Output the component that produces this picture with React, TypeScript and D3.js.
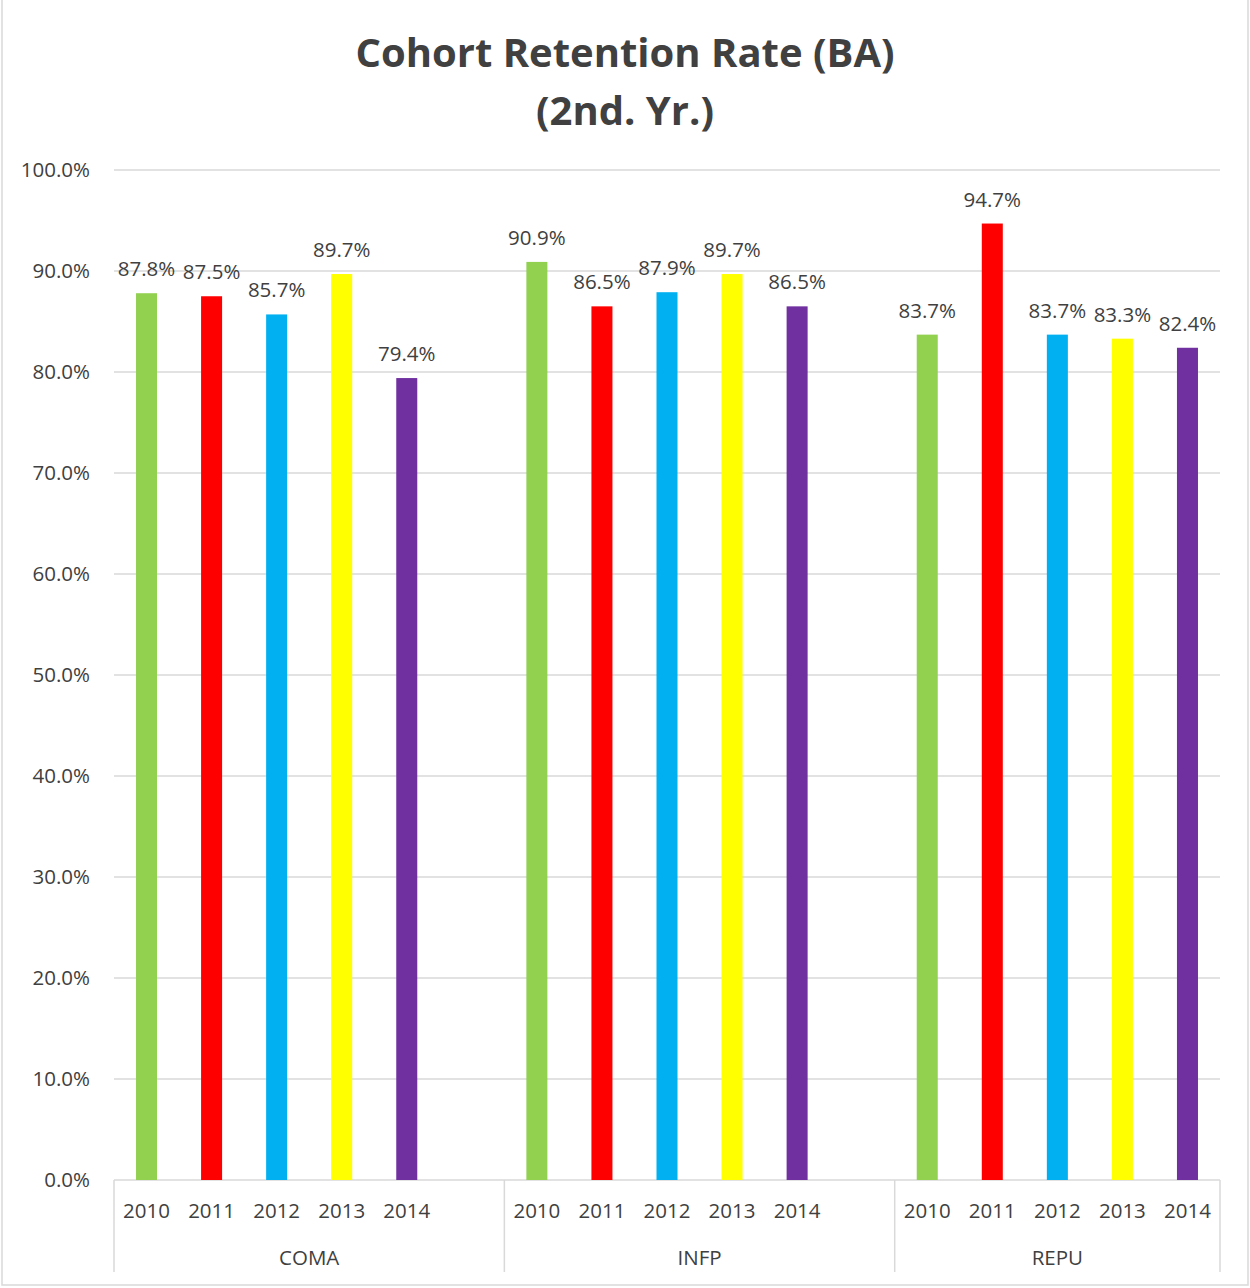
import React from 'react';
import * as d3 from 'd3';

const groups = ['COMA', 'INFP', 'REPU'];
const years = ['2010', '2011', '2012', '2013', '2014'];
const coma = [87.8, 87.5, 85.7, 89.7, 79.4];
const infp = [90.9, 86.5, 87.9, 89.7, 86.5];
const repu = [83.7, 94.7, 83.7, 83.3, 82.4];
const yearColors = ['#92d050', '#ff0000', '#00b0f0', '#ffff00', '#7030a0'];
const yTicks = [0, 10, 20, 30, 40, 50, 60, 70, 80, 90, 100];

const W = 1250;
const H = 1288;
const font = '"Open Sans", "Liberation Sans", sans-serif';
const textColor = '#404040';
const gridColor = '#d9d9d9';
const fs = 20.5;

const App: React.FC = () => {
  const series = [coma, infp, repu];
  // one slot per year, plus an empty slot between groups
  const slots: { key: string; group: number; year: number; value: number | null }[] = [];
  groups.forEach((g, gi) => {
    years.forEach((yr, yi) => {
      slots.push({ key: `${g}-${yr}`, group: gi, year: yi, value: series[gi][yi] });
    });
    if (gi < groups.length - 1) slots.push({ key: `gap-${gi}`, group: gi, year: -1, value: null });
  });

  const left = 114;
  const right = 1220;
  const top = 170;
  const bottom = 1180;

  const x = d3.scaleBand<string>()
    .domain(slots.map(s => s.key))
    .range([left, right])
    .paddingInner(0.677)
    .paddingOuter(0.3385);
  const step = x.step();
  const slotStart = (key: string) => x(key)! - x.paddingInner() * step / 2;

  const y = d3.scaleLinear().domain([0, 100]).range([bottom, top]);

  const groupBounds = groups.map((g, gi) => {
    const ks = slots.filter(s => s.group === gi && s.year >= 0).map(s => s.key);
    const start = slotStart(ks[0]);
    const end = gi < groups.length - 1 ? slotStart(`gap-${gi}`) + step : right;
    return { g, start, end };
  });
  const separators = [left, ...groupBounds.map(b => b.end)];

  return (
    <>
      <style>{'body{margin:0}'}</style>
      <svg width={W} height={H} style={{ display: 'block' }}>
        <rect x={0} y={0} width={W} height={H} fill="#fff" />
        <rect x={2} y={-2} width={W - 4} height={H - 1} fill="none" stroke={gridColor} strokeWidth={1.5} />
        <text x={625} y={67} textAnchor="middle" fontFamily={font} fontWeight={700} fontSize={40} fill={textColor}>
          Cohort Retention Rate (BA)
        </text>
        <text x={625} y={125} textAnchor="middle" fontFamily={font} fontWeight={700} fontSize={40} fill={textColor}>
          (2nd. Yr.)
        </text>
        {yTicks.map(t => (
          <g key={t}>
            <line x1={left} x2={right} y1={y(t)} y2={y(t)} stroke={gridColor} strokeWidth={1.5} />
            <text x={90} y={y(t)} dy="0.35em" textAnchor="end" fontFamily={font} fontSize={fs} fill={textColor}>
              {t.toFixed(1)}%
            </text>
          </g>
        ))}
        {slots.filter(s => s.value !== null).map(s => (
          <g key={s.key}>
            <rect
              x={x(s.key)}
              y={y(s.value!)}
              width={x.bandwidth()}
              height={y(0) - y(s.value!)}
              fill={yearColors[s.year]}
            />
            <text
              x={x(s.key)! + x.bandwidth() / 2}
              y={y(s.value!) - 17}
              textAnchor="middle"
              fontFamily={font}
              fontSize={fs}
              fill={textColor}
            >
              {s.value!.toFixed(1)}%
            </text>
            <text
              x={x(s.key)! + x.bandwidth() / 2}
              y={1218}
              textAnchor="middle"
              fontFamily={font}
              fontSize={fs}
              fill={textColor}
            >
              {years[s.year]}
            </text>
          </g>
        ))}
        {separators.map((sx, i) => (
          <line key={i} x1={sx} x2={sx} y1={bottom} y2={1272} stroke={gridColor} strokeWidth={1.5} />
        ))}
        {groupBounds.map(b => (
          <text
            key={b.g}
            x={(b.start + b.end) / 2}
            y={1265}
            textAnchor="middle"
            fontFamily={font}
            fontSize={fs}
            fill={textColor}
          >
            {b.g}
          </text>
        ))}
      </svg>
    </>
  );
};

export default App;
